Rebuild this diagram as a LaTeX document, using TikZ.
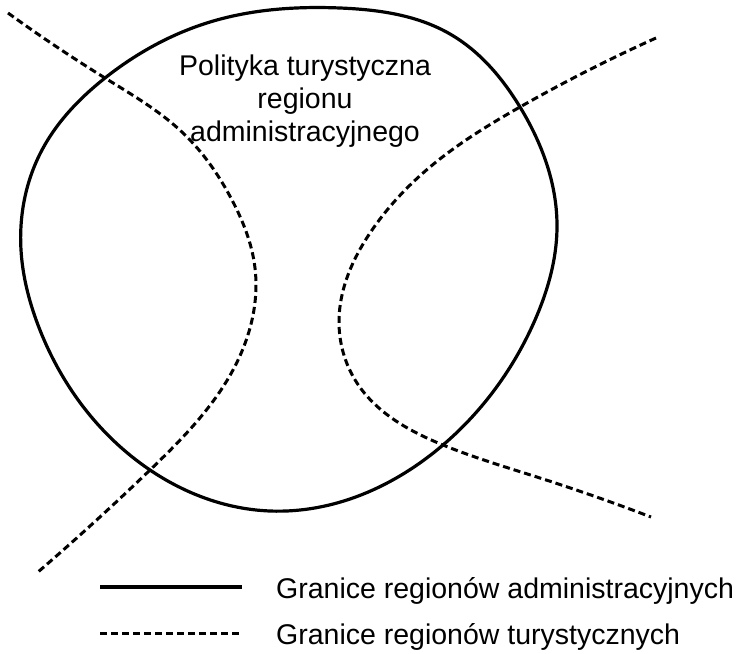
\documentclass[tikz,border=0pt]{standalone}
\usepackage{fontspec}
\setmainfont{Liberation Sans}
\usetikzlibrary{positioning,hobby}

\begin{document}
\begin{tikzpicture}[x=1pt, y=-1pt,
                    admin/.style={draw, line width=3.2pt},
                    tour/.style={draw, line width=3pt, dash pattern=on 7pt off 4pt},
                    titletext/.style={font=\fontsize{28.5}{33}\selectfont, align=center, inner sep=0pt},
                    legtext/.style={font=\fontsize{28.5}{33}\selectfont, inner sep=0pt}]
    \useasboundingbox (0,0) rectangle (738,653);

    % Regions
    \draw [admin, use Hobby shortcut, closed=true] (340,8) .. (450,34) .. (520,107) .. (557,225) .. (535,320) .. (443,445) .. (270,511) .. (150,470) .. (38,325) .. (21,250) .. (42,150) .. (105,78) .. (210,22);
    \draw [tour, use Hobby shortcut] (8,13) .. (105,78) .. (183,133) .. (232,200) .. (255,268) .. (233,370) .. (150,470) .. (38,572);
    \draw [tour, use Hobby shortcut] (656,38) .. (520,107) .. (430,167) .. (370,233) .. (339,320) .. (357,383) .. (443,445) .. (540,478) .. (651,517);

    % Nodes
    \node [titletext] (title) at (305,101) {Polityka turystyczna\\regionu\\administracyjnego};
    \coordinate (solidL) at (100,587);
    \coordinate (solidR) at (242,587);
    \coordinate (dashL)  at (100,633);
    \coordinate (dashR)  at (242,633);
    \node [legtext, right=34pt of solidR, yshift=-4pt] (admtext)  {Granice regionów administracyjnych};
    \node [legtext, right=34pt of dashR, yshift=-4pt]  (tourtext) {Granice regionów turystycznych};

    % Paths
    \path [admin] (solidL) -- (solidR);
    \path [tour]  (dashL) -- (dashR);
\end{tikzpicture}
\end{document}
